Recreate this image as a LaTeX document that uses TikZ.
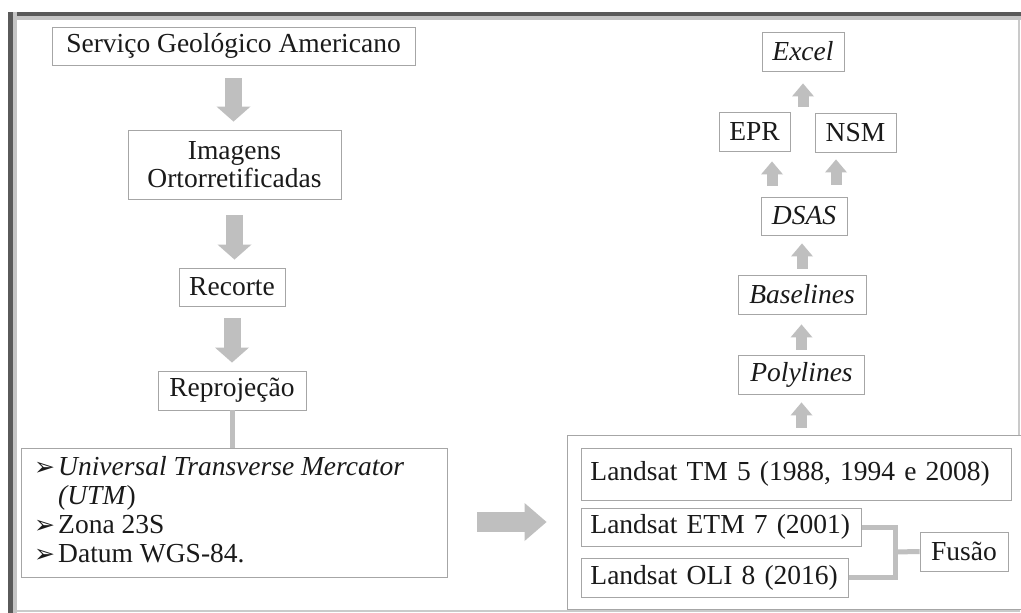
\documentclass[tikz,border=0pt]{standalone}
\usepackage{fontspec}
\setmainfont{Liberation Serif}
\newfontfamily\simbolos{DejaVu Sans}
\usetikzlibrary{positioning,calc,arrows.meta}

\definecolor{cinzaborda}{HTML}{A6A6A6}
\definecolor{cinzaseta}{HTML}{BFBFBF}
\definecolor{cinzamoldura}{HTML}{5A5A5A}
\definecolor{texto}{HTML}{1A1A1A}

\newcommand{\marcador}{\makebox[24pt][l]{\simbolos\fontsize{25}{25}\selectfont ➢}}

\tikzset{
  caixa/.style={draw=cinzaborda, line width=0.9pt, fill=white, inner sep=0pt, text=texto,
    font=\fontsize{27.5}{28}\selectfont},
  italico/.style={font=\fontsize{27.5}{28}\selectfont\itshape},
  setagrossa/.style={draw=cinzaseta, line width=17pt,
    -{Triangle[length=15pt,width=34pt,line width=0pt]}},
  setafina/.style={draw=cinzaseta, line width=11pt,
    -{Triangle[length=13pt,width=22pt,line width=0pt]}},
  ligacao/.style={draw=cinzaseta, line width=5pt},
}

\begin{document}
\begin{tikzpicture}[x=1pt, y=-1pt]
    \useasboundingbox (0,0) rectangle (1021,613);
    % moldura
    \fill[white] (0,0) rectangle (1021,613);
    \fill[cinzamoldura!35] (8,12) rectangle (1021,20);
    \fill[cinzamoldura] (8,12) rectangle (1021,16);
    \fill[cinzamoldura!35] (8,12) rectangle (17,613);
    \fill[cinzamoldura] (8,12) rectangle (13,613);
    \draw[cinzaborda!60, line width=1.5pt] (17,611) -- (1019,611) -- (1019,20);

    % coluna da esquerda
    \node[caixa, minimum width=363pt, minimum height=38pt] (servico) at (233.5,46) {Serviço Geológico Americano};
    \node[caixa, minimum width=213pt, minimum height=69pt, align=center] (imagens) at (234.5,164.5) {Imagens\\Ortorretificadas};
    \node[caixa, minimum width=106pt, minimum height=38pt] (recorte) at (232,287) {Recorte};
    \node[caixa, minimum width=148pt, minimum height=39pt] (reproj) at (232,390.5) {Reprojeção};
    \node[caixa, minimum width=426pt, minimum height=129pt] (utm) at (234,512.5) {};
    \node[anchor=north west, align=left, inner sep=0pt, text=texto,
          font=\fontsize{27.5}{29}\selectfont] (utmtexto) at (34,456)
        {\marcador\textit{Universal Transverse Mercator}\\
         \hspace*{24pt}\textit{(UTM})\\
         \marcador Zona 23S\\
         \marcador Datum WGS-84.};

    \draw[setagrossa, shorten <=13pt, shorten >=8pt] (servico.south) -- (servico.south |- imagens.north);
    \draw[setagrossa, shorten <=16pt, shorten >=8pt] (imagens.south) -- (imagens.south |- recorte.north);
    \draw[setagrossa, shorten <=12pt, shorten >=8pt] (recorte.south) -- (recorte.south |- reproj.north);
    \draw[ligacao] (reproj.south) -- (reproj.south |- utm.north);

    % coluna da direita
    \node[caixa, italico, minimum width=82pt, minimum height=39pt] (excel) at (803,51.5) {Excel};
    \node[caixa, minimum width=71pt, minimum height=39pt] (epr) at (754.5,131.5) {EPR};
    \node[caixa, minimum width=81pt, minimum height=39pt] (nsm) at (855.5,132.5) {NSM};
    \node[caixa, italico, minimum width=86pt, minimum height=38pt] (dsas) at (804,216) {DSAS};
    \node[caixa, italico, minimum width=128pt, minimum height=39pt] (baselines) at (802,294.5) {Baselines};
    \node[caixa, italico, minimum width=126pt, minimum height=39pt] (polylines) at (801.5,374.5) {Polylines};

    % imagens Landsat
    \node[caixa, minimum width=456pt, minimum height=174pt] (landsat) at (795,522) {};
    \node[caixa, anchor=west, inner xsep=9pt, text width=412pt, align=left, minimum height=52pt] (tm) at (581,474) {\mbox{Landsat TM 5 (1988, 1994 e 2008)}};
    \node[caixa, anchor=west, inner xsep=9pt, text width=262pt, align=left, minimum height=38pt] (etm) at (581,527) {\mbox{Landsat ETM 7 (2001)}};
    \node[caixa, anchor=west, inner xsep=9pt, text width=249pt, align=left, minimum height=39pt] (oli) at (581,577.5) {\mbox{Landsat OLI 8 (2016)}};
    \node[caixa, minimum width=88pt, minimum height=39pt] (fusao) at (964,551.5) {Fusão};

    \coordinate (juncao) at (895,552);
    \draw[ligacao] (etm.east) -| (juncao) |- (oli.east);
    \draw[ligacao] (juncao) -- (fusao.west);

    \draw[setagrossa, line width=20pt, -{Triangle[length=22pt,width=38pt,line width=0pt]},
          shorten <=30pt, shorten >=20pt] (utm.east |- landsat.west) -- (landsat.west);

    \draw[setafina, shorten <=7pt, shorten >=8pt] (polylines.south |- landsat.north) -- (polylines.south);
    \draw[setafina, shorten <=5pt, shorten >=10pt] (polylines.north) -- (polylines.north |- baselines.south);
    \draw[setafina, shorten <=6pt, shorten >=8pt] (baselines.north) -- (baselines.north |- dsas.south);
    \draw[setafina, shorten <=11pt, shorten >=10pt] ([xshift=-32pt]dsas.north) -- ([xshift=-32pt]dsas.north |- epr.south);
    \draw[setafina, shorten <=12pt, shorten >=7pt] ([xshift=32pt]dsas.north) -- ([xshift=32pt]dsas.north |- nsm.south);
    \draw[setafina, shorten <=5pt, shorten >=12pt] (excel.south |- epr.north) -- (excel.south);
\end{tikzpicture}
\end{document}
